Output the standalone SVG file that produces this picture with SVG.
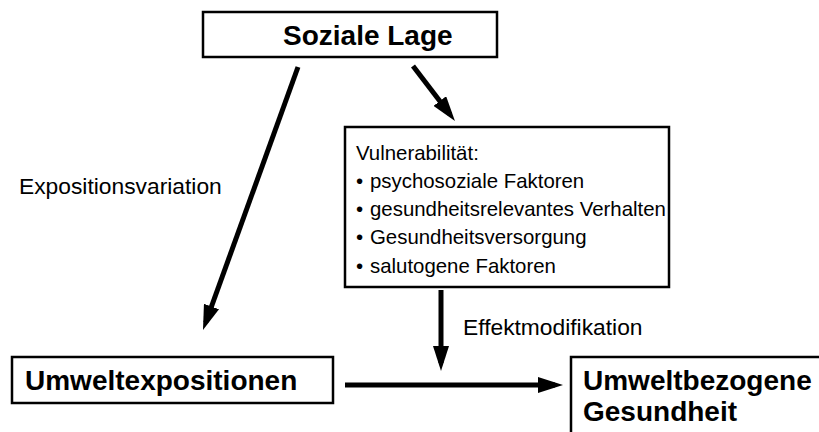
<svg xmlns="http://www.w3.org/2000/svg" width="819" height="432" viewBox="0 0 819 432">
<style>
.box{fill:#fff;stroke:#000;stroke-width:2.5}
.b{font-family:"Liberation Sans",Arial,sans-serif;font-weight:bold;font-size:28px;fill:#000}
.r{font-family:"Liberation Sans",Arial,sans-serif;font-size:20.4px;fill:#000}
.l{font-family:"Liberation Sans",Arial,sans-serif;font-size:22.8px;fill:#000}
.c{stroke:#000;stroke-width:5;fill:none;marker-end:url(#ah)}
</style>
<defs>
<marker id="ah" markerUnits="userSpaceOnUse" markerWidth="25" markerHeight="16" viewBox="0 0 25 16" refX="17" refY="8" orient="auto">
<path d="M0,0 L25,8 L0,16 z" fill="#000"/>
</marker>
</defs>
<rect width="819" height="432" fill="#fff"/>
<g id="connectors">
<line class="c" x1="298" y1="67" x2="205.7" y2="322.5"/>
<line class="c" x1="413" y1="66" x2="450.1" y2="114.6"/>
<line class="c" x1="441" y1="290" x2="441" y2="363"/>
<line class="c" x1="345" y1="385" x2="555" y2="385"/>
<text class="l" x="19" y="194">Expositionsvariation</text>
<text class="l" x="463" y="335">Effektmodifikation</text>
</g>
<g id="soziale-lage">
<rect class="box" x="203" y="12" width="294" height="45"/>
<text class="b" x="283" y="45">Soziale Lage</text>
</g>
<g id="vulnerabilitaet">
<rect class="box" x="345" y="127" width="324" height="160"/>
<text class="r" x="356" y="160">Vulnerabilität:</text>
<text class="r" y="188"><tspan x="356">•</tspan><tspan x="370">psychosoziale Faktoren</tspan></text>
<text class="r" y="216"><tspan x="356">•</tspan><tspan x="370">gesundheitsrelevantes Verhalten</tspan></text>
<text class="r" y="244"><tspan x="356">•</tspan><tspan x="370">Gesundheitsversorgung</tspan></text>
<text class="r" y="273"><tspan x="356">•</tspan><tspan x="370">salutogene Faktoren</tspan></text>
</g>
<g id="umweltexpositionen">
<rect class="box" x="12" y="357" width="321" height="46"/>
<text class="b" x="25" y="390">Umweltexpositionen</text>
</g>
<g id="umweltbezogene-gesundheit">
<rect class="box" x="571" y="357" width="260" height="90"/>
<text class="b" x="583" y="390">Umweltbezogene</text>
<text class="b" x="583" y="421">Gesundheit</text>
</g>
</svg>
